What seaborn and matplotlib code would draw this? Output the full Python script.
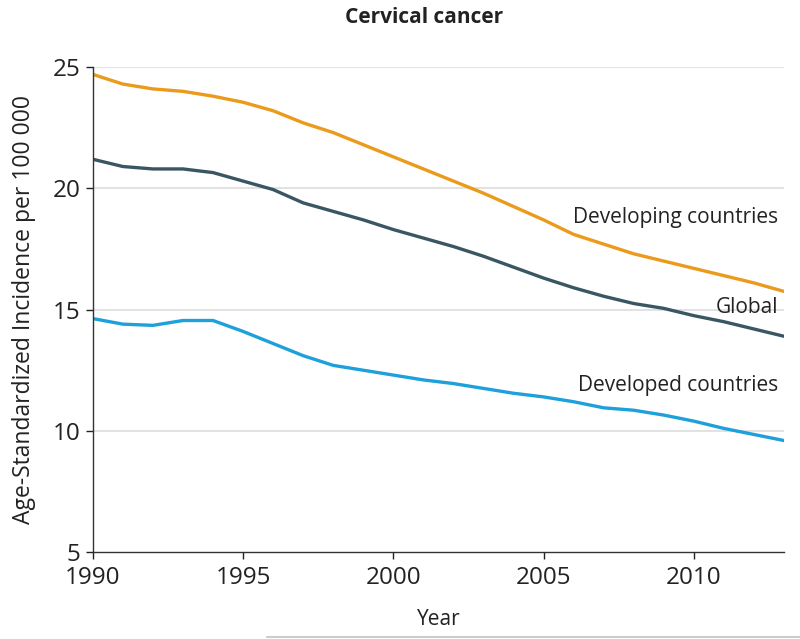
import pandas as pd
import seaborn as sns
import matplotlib.pyplot as plt
from matplotlib.lines import Line2D

# values
years = list(range(1990, 2014))
developing = [24.7, 24.3, 24.1, 24.0, 23.8, 23.55, 23.2, 22.7, 22.3, 21.8, 21.3, 20.8,
              20.3, 19.8, 19.25, 18.7, 18.1, 17.7, 17.3, 17.0, 16.7, 16.4, 16.1, 15.75]
global_rate = [21.2, 20.9, 20.8, 20.8, 20.65, 20.3, 19.95, 19.4, 19.05, 18.7, 18.3, 17.95,
               17.6, 17.2, 16.75, 16.3, 15.9, 15.55, 15.25, 15.05, 14.75, 14.5, 14.2, 13.9]
developed = [14.63, 14.4, 14.35, 14.55, 14.55, 14.1, 13.6, 13.1, 12.7, 12.5, 12.3, 12.1,
             11.95, 11.75, 11.55, 11.4, 11.2, 10.95, 10.85, 10.65, 10.4, 10.1, 9.85, 9.6]
series_names = ['Developing countries', 'Global', 'Developed countries']
colors = ['#EB9A1B', '#3A5663', '#1EA0DB']
y_ticks = [5, 10, 15, 20, 25]
x_ticks = [1990, 1995, 2000, 2005, 2010]

df = pd.DataFrame({'Year': years * 3,
                   'Rate': developing + global_rate + developed,
                   'Group': [n for n in series_names for _ in years]})

sns.set_style("white")
plt.rcParams['font.family'] = ['Open Sans', 'DejaVu Sans']

fig = plt.figure(figsize=(8, 6.39), dpi=100)
ax = fig.add_axes([0.116, 0.136, 0.864, 0.759])

for y in y_ticks[1:]:
    ax.axhline(y, color='#DDDDDD', linewidth=1.2, zorder=0)

sns.lineplot(data=df, x='Year', y='Rate', hue='Group', palette=colors,
             hue_order=series_names, linewidth=2.4, legend=False, ax=ax)

ax.set_xlim(1990, 2013)
ax.set_ylim(5, 25)
ax.set_xticks(x_ticks)
ax.set_yticks(y_ticks)
ax.tick_params(axis='both', labelsize=17.5, colors='#222222', length=5, width=1,
               direction='out', bottom=True, left=True, pad=4)
ax.tick_params(axis='x', pad=5)
for side in ['top', 'right']:
    ax.spines[side].set_visible(False)
for side in ['left', 'bottom']:
    ax.spines[side].set_color('#333333')
    ax.spines[side].set_linewidth(1)

ax.set_xlabel('')
ax.set_ylabel('Age-Standardized Incidence per 100 000', fontsize=16.5, color='#222222')
ax.yaxis.set_label_coords(-0.082, 0.5)

label_y = [18.8, 15.1, 11.85]
for name, ly in zip(series_names, label_y):
    ax.text(2012.8, ly, name, ha='right', va='center', fontsize=15, color='#222222')

fig.text(0.53, 0.972, 'Cervical cancer', ha='center', va='center', fontsize=15,
         fontweight='bold', color='#222222')
fig.text(0.548, 0.03, 'Year', ha='center', va='center', fontsize=15, color='#222222')
fig.add_artist(Line2D([0.334, 1.0], [0.003, 0.003], color='#CCCCCC', linewidth=1.5,
                      transform=fig.transFigure))

fig.savefig('out.png', dpi=100)
